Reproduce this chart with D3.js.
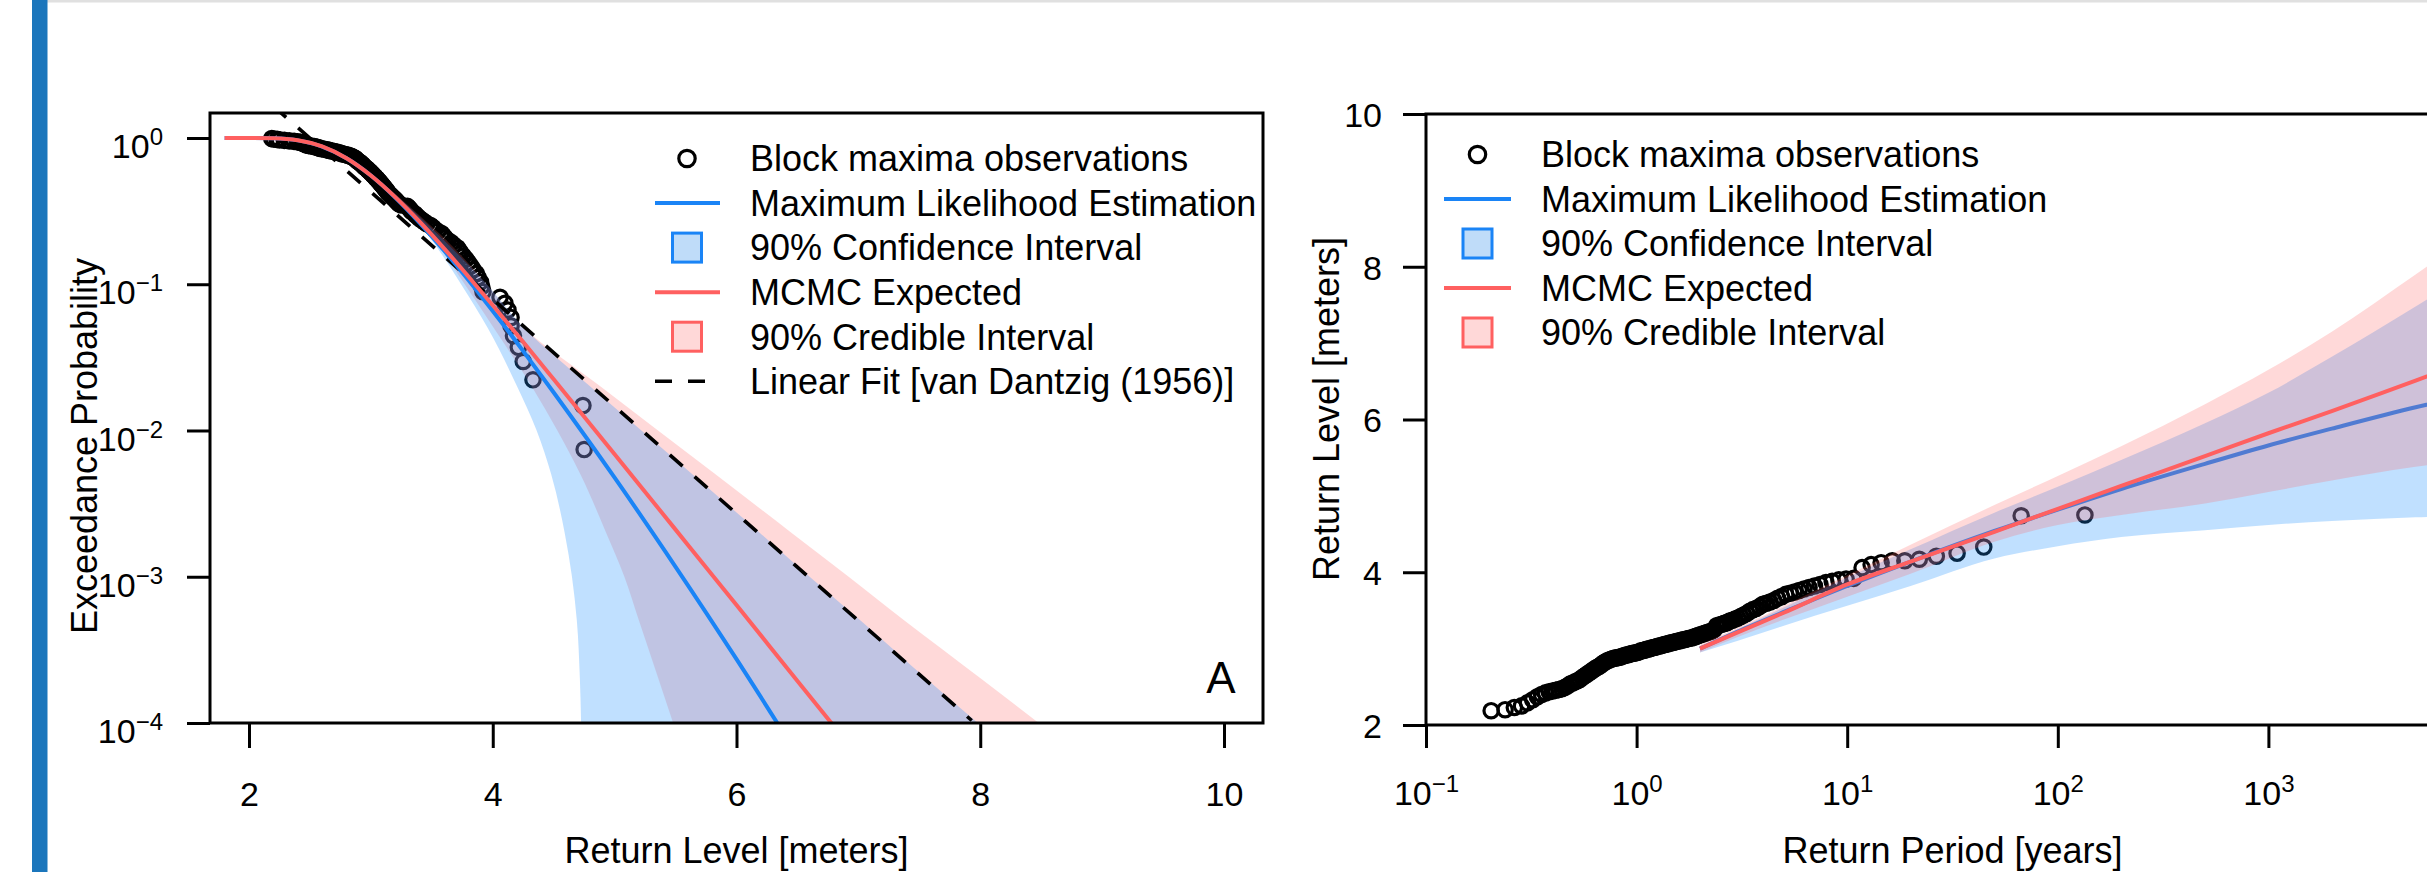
<!DOCTYPE html>
<html><head><meta charset="utf-8">
<script src="https://cdn.jsdelivr.net/npm/d3@7"></script>
<style>
html,body{margin:0;padding:0;background:#fff;overflow:hidden;}
svg text{font-family:"Liberation Sans", Arial, Helvetica, sans-serif;fill:#000;}
</style></head><body>
<svg id="chart" width="2427" height="872"></svg>
<script>
// ---------------- DATA ----------------
// Block maxima observations, ranked from largest (rank 1) to smallest
const obsLevel = [
 4.75,4.74,4.33,4.25,4.21,4.17,4.15,4.15,4.125,4.10,
 4.06,3.92,3.91,3.90,3.88,3.865,3.84,3.82,3.80,3.78,
 3.76,3.74,3.725,3.71,3.68,3.66,3.63,3.61,3.595,3.58,
 3.55,3.525,3.51,3.49,3.46,3.44,3.42,3.40,3.386,3.37,
 3.36,3.34,3.33,3.32,3.31,3.30,3.25,3.23,3.22,3.21,
 3.20,3.19,3.18,3.17,3.16,3.15,3.14,3.135,3.13,3.12,
 3.115,3.11,3.10,3.095,3.09,3.08,3.075,3.07,3.06,3.055,
 3.05,3.04,3.035,3.03,3.02,3.015,3.01,3.00,2.995,2.99,
 2.98,2.975,2.97,2.96,2.95,2.945,2.94,2.935,2.93,2.92,
 2.915,2.91,2.90,2.89,2.885,2.88,2.875,2.87,2.86,2.85,
 2.84,2.825,2.81,2.79,2.77,2.755,2.74,2.72,2.70,2.68,
 2.66,2.64,2.62,2.595,2.58,2.565,2.55,2.535,2.51,2.49,
 2.475,2.465,2.455,2.445,2.435,2.42,2.40,2.37,2.33,2.29,
 2.25,2.23,2.20,2.187];
// exceedance probability of each observation (panel A, y)
const obsExceedance = [
 0.00741,0.01481,0.02222,0.02963,0.03704,0.04444,0.05185,0.05926,0.06667,0.07407,
 0.08148,0.08889,0.0963,0.1037,0.1111,0.1185,0.1259,0.1333,0.1407,0.1481,
 0.1556,0.163,0.1704,0.1778,0.1852,0.1926,0.2,0.2074,0.2148,0.2222,
 0.2296,0.237,0.2444,0.2519,0.2593,0.2667,0.2741,0.2815,0.2889,0.2963,
 0.3037,0.3111,0.3185,0.3259,0.3333,0.3407,0.3481,0.3556,0.363,0.3704,
 0.3778,0.3852,0.3926,0.4,0.4074,0.4148,0.4222,0.4296,0.437,0.4444,
 0.4519,0.4593,0.4667,0.4741,0.4815,0.4889,0.4963,0.5037,0.5111,0.5185,
 0.5259,0.5333,0.5407,0.5481,0.5556,0.563,0.5704,0.5778,0.5852,0.5926,
 0.6,0.6074,0.6148,0.6222,0.6296,0.637,0.6444,0.6519,0.6593,0.6667,
 0.6741,0.6815,0.6889,0.6963,0.7037,0.7111,0.7185,0.7259,0.7333,0.7407,
 0.7481,0.7556,0.763,0.7704,0.7778,0.7852,0.7926,0.8,0.8074,0.8148,
 0.8222,0.8296,0.837,0.8444,0.8519,0.8593,0.8667,0.8741,0.8815,0.8889,
 0.8963,0.9037,0.9111,0.9185,0.9259,0.9333,0.9407,0.9481,0.9556,0.963,
 0.9704,0.9778,0.9852,0.9926];
// return period of each observation in years (right panel, x)
const obsReturnPeriod = [
 134.5,67.0,44.5,33.25,26.5,22.0,18.78,16.37,14.49,12.99,
 11.77,10.74,9.88,9.13,8.49,7.93,7.43,6.99,6.59,6.24,
 5.915,5.62,5.354,5.109,4.883,4.675,4.481,4.302,4.135,3.979,
 3.833,3.696,3.568,3.447,3.332,3.224,3.122,3.025,2.933,2.846,
 2.763,2.684,2.608,2.536,2.466,2.400,2.337,2.276,2.218,2.162,
 2.108,2.056,2.006,1.958,1.911,1.867,1.823,1.781,1.741,1.702,
 1.663,1.627,1.591,1.556,1.523,1.490,1.458,1.427,1.397,1.368,
 1.340,1.312,1.285,1.259,1.233,1.208,1.184,1.160,1.137,1.114,
 1.091,1.070,1.048,1.027,1.007,0.9867,0.9670,0.9477,0.9288,0.9102,
 0.8920,0.8741,0.8565,0.8391,0.8221,0.8053,0.7888,0.7726,0.7565,0.7407,
 0.7252,0.7098,0.6946,0.6797,0.6649,0.6502,0.6357,0.6213,0.6071,0.5930,
 0.5790,0.5650,0.5512,0.5374,0.5237,0.5100,0.4963,0.4826,0.4689,0.4551,
 0.4413,0.4273,0.4132,0.3988,0.3842,0.3693,0.3539,0.3379,0.3212,0.3034,
 0.2842,0.2627,0.2374,0.2039];

// Panel A: fitted exceedance curves (x = return level)
const curveLevels   = [1.8,2.0,2.2,2.4,2.6,2.8,3.0,3.2,3.4,3.6,3.8,4.0,4.25,4.5,5.0,5.5,6.0,6.5,7.0];
const mleExceedA    = [1.0,0.9997,0.9947,0.963,0.874,0.727,0.554,0.392,0.263,0.170,0.107,0.0656,0.0349,0.0182,0.00476,0.00117,0.000273,0.00006,0.000012];
const mcmcExceedA   = [1.0,0.9998,0.9956,0.966,0.876,0.727,0.554,0.394,0.268,0.176,0.113,0.0719,0.0403,0.0224,0.00688,0.0021,0.00064,0.000194,0.000059];
// Panel A: interval bands (y = exceedance probability)
const bandExceedA   = [0.5,0.3,0.2,0.1,0.05,0.02,0.01,0.005,0.002,0.001,0.0005,0.0002,0.0001];
const mleLowerA     = [3.06,3.33,3.50,3.74,3.96,4.20,4.36,4.48,4.59,4.65,4.69,4.715,4.725];
const mleUpperA     = [3.08,3.38,3.60,3.95,4.26,4.80,5.22,5.64,6.19,6.60,7.02,7.56,7.98];
const mcmcLowerA    = [3.06,3.34,3.52,3.77,4.01,4.32,4.53,4.72,4.93,5.08,5.20,5.36,5.48];
const mcmcUpperA    = [3.09,3.39,3.62,3.95,4.26,4.885,5.356,5.83,6.45,6.92,7.38,8.01,8.48];
// Panel A: linear fit [van Dantzig (1956)]
const linFitLevels  = [2.2,7.93];
const linFitExceed  = [1.65,0.000104];

// Right panel: return level vs return period
const periodGrid    = [2,3,5,10,20,50,100,200,500,1000,2000,5000,10000];
const mleLevelB     = [3.00,3.22,3.48,3.82,4.14,4.54,4.82,5.09,5.42,5.66,5.88,6.16,6.35];
const mcmcLevelB    = [3.00,3.21,3.47,3.84,4.14,4.53,4.83,5.13,5.52,5.82,6.11,6.51,6.81];
const mleLowerB     = [2.95,3.10,3.30,3.56,3.82,4.18,4.34,4.46,4.55,4.62,4.67,4.72,4.74];
const mleUpperB     = [3.03,3.25,3.54,3.93,4.30,4.78,5.12,5.47,5.95,6.35,6.82,7.48,7.99];
const mcmcLowerB    = [2.95,3.15,3.38,3.68,3.98,4.40,4.62,4.75,4.90,5.05,5.20,5.38,5.48];
const mcmcUpperB    = [3.05,3.27,3.56,3.96,4.36,4.88,5.26,5.65,6.20,6.65,7.15,7.90,8.48];

// ticks
const leftXTicks  = [2,4,6,8,10];
const leftYTicks  = [1,0.1,0.01,0.001,0.0001];
const leftYExp    = ["0","\u22121","\u22122","\u22123","\u22124"];
const rightXTicks = [0.1,1,10,100,1000];
const rightXExp   = ["\u22121","0","1","2","3"];
const rightYTicks = [2,4,6,8,10];

const legendA = ["Block maxima observations","Maximum Likelihood Estimation","90% Confidence Interval","MCMC Expected","90% Credible Interval","Linear Fit [van Dantzig (1956)]"];
const legendB = legendA.slice(0,5);

// ---------------- STYLE ----------------
const BLUE = "#1a84f6", RED = "#ff6060";
const BLUE_FILL = "rgba(30,144,255,0.28)", RED_FILL = "rgba(255,96,96,0.24)";
const FS = 36, TFS = 34, SUP = 24;

const svg = d3.select("#chart");
svg.append("rect").attr("x",0).attr("y",0).attr("width",2427).attr("height",872).attr("fill","#fff");
svg.append("rect").attr("x",47).attr("y",0).attr("width",2380).attr("height",2.5).attr("fill","#e0e0e0");
svg.append("rect").attr("x",32).attr("y",0).attr("width",15.5).attr("height",872).attr("fill","#1b76bc");

// ---------------- SCALES ----------------
const A = {l:210,r:1263,t:113,b:723};
const B = {l:1426,r:2479,t:114,b:725};
const ax = d3.scaleLinear().domain([1.68,10.32]).range([A.l,A.r]);
const ay = d3.scaleLog().domain([1e-4,1.482]).range([A.b,A.t]);
const bx = d3.scaleLog().domain([0.1,1e4]).range([B.l,B.r]);
const by = d3.scaleLinear().domain([2,10]).range([B.b,B.t]);

const defs = svg.append("defs");
defs.append("clipPath").attr("id","clipA").append("rect").attr("x",A.l).attr("y",A.t).attr("width",A.r-A.l).attr("height",A.b-A.t);
defs.append("clipPath").attr("id","clipB").append("rect").attr("x",B.l).attr("y",B.t).attr("width",B.r-B.l).attr("height",B.b-B.t);

const PR = 7.2, PSW = 3.2;

// ---------------- PANEL A ----------------
const gA = svg.append("g").attr("clip-path","url(#clipA)");
gA.append("g").selectAll("circle").data(obsLevel.map((v,i)=>[v,obsExceedance[i]]))
  .join("circle").attr("cx",d=>ax(d[0])).attr("cy",d=>ay(d[1])).attr("r",PR)
  .attr("fill","none").attr("stroke","#000").attr("stroke-width",PSW);

const bandA = (lo,hi)=>d3.area().curve(d3.curveMonotoneY)
  .y((d,i)=>ay(bandExceedA[i])).x0((d,i)=>ax(lo[i])).x1((d,i)=>ax(hi[i]))(bandExceedA);
gA.append("path").attr("d",bandA(mcmcLowerA,mcmcUpperA)).attr("fill",RED_FILL);
gA.append("path").attr("d",bandA(mleLowerA,mleUpperA)).attr("fill",BLUE_FILL);

gA.append("path").attr("d",d3.line().x((d,i)=>ax(linFitLevels[i])).y((d,i)=>ay(linFitExceed[i]))(linFitLevels))
  .attr("fill","none").attr("stroke","#000").attr("stroke-width",3.6).attr("stroke-dasharray","17,16");

const lineA = ys=>d3.line().curve(d3.curveMonotoneX).x((d,i)=>ax(curveLevels[i])).y((d,i)=>ay(ys[i]))(curveLevels);
gA.append("path").attr("d",lineA(mleExceedA)).attr("fill","none").attr("stroke",BLUE).attr("stroke-width",4);
gA.append("path").attr("d",lineA(mcmcExceedA)).attr("fill","none").attr("stroke",RED).attr("stroke-width",4);

// ---------------- PANEL B ----------------
const gB = svg.append("g").attr("clip-path","url(#clipB)");
gB.append("g").selectAll("circle").data(obsLevel.map((v,i)=>[obsReturnPeriod[i],v]))
  .join("circle").attr("cx",d=>bx(d[0])).attr("cy",d=>by(d[1])).attr("r",PR)
  .attr("fill","none").attr("stroke","#000").attr("stroke-width",PSW);
const bandB = (lo,hi)=>d3.area().curve(d3.curveMonotoneX)
  .x((d,i)=>bx(periodGrid[i])).y0((d,i)=>by(lo[i])).y1((d,i)=>by(hi[i]))(periodGrid);
const lineB = ys=>d3.line().curve(d3.curveMonotoneX).x((d,i)=>bx(periodGrid[i])).y((d,i)=>by(ys[i]))(periodGrid);
gB.append("path").attr("d",bandB(mleLowerB,mleUpperB)).attr("fill",BLUE_FILL);
gB.append("path").attr("d",lineB(mleLevelB)).attr("fill","none").attr("stroke",BLUE).attr("stroke-width",4);
gB.append("path").attr("d",bandB(mcmcLowerB,mcmcUpperB)).attr("fill",RED_FILL);
gB.append("path").attr("d",lineB(mcmcLevelB)).attr("fill","none").attr("stroke",RED).attr("stroke-width",4);

// ---------------- FRAMES & AXES ----------------
svg.append("rect").attr("x",A.l).attr("y",A.t).attr("width",A.r-A.l).attr("height",A.b-A.t)
  .attr("fill","none").attr("stroke","#000").attr("stroke-width",3);
svg.append("rect").attr("x",B.l).attr("y",B.t).attr("width",B.r-B.l).attr("height",B.b-B.t)
  .attr("fill","none").attr("stroke","#000").attr("stroke-width",3);

function styleAxis(g){
  g.select(".domain").remove();
  g.selectAll(".tick line").attr("stroke","#000").attr("stroke-width",3);
  g.selectAll(".tick text").attr("font-size",TFS).attr("fill","#000")
   .attr("font-family","Liberation Sans, Arial, Helvetica, sans-serif");
}
// Panel A x
svg.append("g").attr("transform",`translate(0,${A.b})`)
  .call(d3.axisBottom(ax).tickValues(leftXTicks).tickSizeInner(25).tickSizeOuter(0).tickPadding(34).tickFormat(d3.format("d")))
  .call(styleAxis);
// Panel A y (powers of ten)
svg.append("g").attr("transform",`translate(${A.l},0)`)
  .call(d3.axisLeft(ay).tickValues(leftYTicks).tickSizeInner(23).tickSizeOuter(0).tickPadding(24).tickFormat(()=>""))
  .call(styleAxis)
  .call(g=>g.selectAll(".tick text").attr("dy","0.58em").each(function(d,i){
      const t=d3.select(this); t.text(null);
      t.append("tspan").text("10");
      t.append("tspan").attr("dy",-13).attr("font-size",SUP).text(leftYExp[i]);
  }));
// Panel B x (powers of ten)
svg.append("g").attr("transform",`translate(0,${B.b})`)
  .call(d3.axisBottom(bx).tickValues(rightXTicks).tickSizeInner(23).tickSizeOuter(0).tickPadding(33).tickFormat(()=>""))
  .call(styleAxis)
  .call(g=>g.selectAll(".tick text").each(function(d,i){
      const t=d3.select(this); t.text(null);
      t.append("tspan").text("10");
      t.append("tspan").attr("dy",-13).attr("font-size",SUP).text(rightXExp[i]);
  }));
// Panel B y
svg.append("g").attr("transform",`translate(${B.l},0)`)
  .call(d3.axisLeft(by).tickValues(rightYTicks).tickSizeInner(23).tickSizeOuter(0).tickPadding(21).tickFormat(d3.format("d")))
  .call(styleAxis)
  .call(g=>g.selectAll(".tick text").attr("dy","0.36em"));

// axis titles
svg.append("text").attr("transform","translate(97,446) rotate(-90)").attr("text-anchor","middle").attr("font-size",FS).text("Exceedance Probability");
svg.append("text").attr("x",(A.l+A.r)/2).attr("y",863).attr("text-anchor","middle").attr("font-size",FS).text("Return Level [meters]");
svg.append("text").attr("transform","translate(1339,409) rotate(-90)").attr("text-anchor","middle").attr("font-size",FS).text("Return Level [meters]");
svg.append("text").attr("x",(B.l+B.r)/2).attr("y",863).attr("text-anchor","middle").attr("font-size",FS).text("Return Period [years]");
svg.append("text").attr("x",1221).attr("y",693).attr("text-anchor","middle").attr("font-size",44).text("A");

// ---------------- LEGENDS ----------------
function legend(items, cx, x0, x1, tx, y0, dy){
  const g = svg.append("g");
  items.forEach((label,i)=>{
    const y = y0 + i*dy;
    if(i===0) g.append("circle").attr("cx",cx).attr("cy",y).attr("r",8.2).attr("fill","none").attr("stroke","#000").attr("stroke-width",3.2);
    if(i===1) g.append("line").attr("x1",x0).attr("x2",x1).attr("y1",y).attr("y2",y).attr("stroke",BLUE).attr("stroke-width",4);
    if(i===2) g.append("rect").attr("x",cx-14.5).attr("y",y-14.5).attr("width",29).attr("height",29).attr("fill","#bfdcf9").attr("stroke",BLUE).attr("stroke-width",3);
    if(i===3) g.append("line").attr("x1",x0).attr("x2",x1).attr("y1",y).attr("y2",y).attr("stroke",RED).attr("stroke-width",4);
    if(i===4) g.append("rect").attr("x",cx-14.5).attr("y",y-14.5).attr("width",29).attr("height",29).attr("fill","#ffd8d8").attr("stroke",RED).attr("stroke-width",3);
    if(i===5) g.append("line").attr("x1",x0).attr("x2",x1).attr("y1",y).attr("y2",y).attr("stroke","#000").attr("stroke-width",3.6).attr("stroke-dasharray","17,16");
    g.append("text").attr("x",tx).attr("y",y+12.8).attr("font-size",FS).text(label);
  });
}
legend(legendA, 687, 655, 720, 750, 158.5, 44.55);
legend(legendB, 1477.5, 1444, 1511, 1541, 154.5, 44.5);
</script>
</body></html>
